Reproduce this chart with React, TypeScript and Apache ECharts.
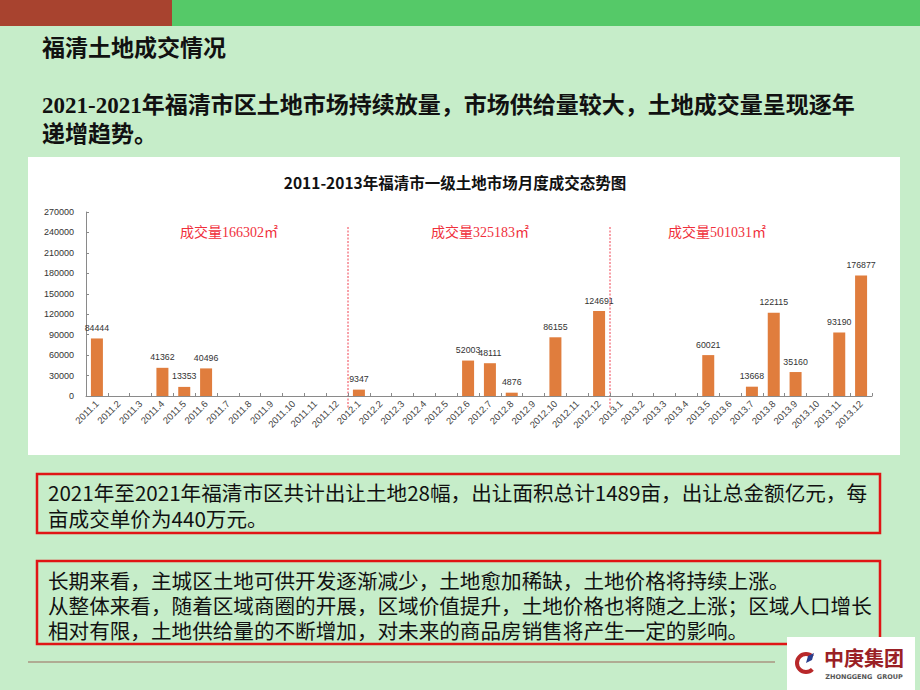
import React, { useEffect, useRef } from "react";
import * as echarts from "echarts";

const years = ["2011", "2012", "2013"];
const months = ["1", "2", "3", "4", "5", "6", "7", "8", "9", "10", "11", "12"];
const categories = years.flatMap((y) => months.map((m) => `${y}.${m}`));

const values2011 = [84444, 0, 0, 41362, 13353, 40496, 0, 0, 0, 0, 0, 0];
const values2012 = [9347, 0, 0, 0, 0, 52003, 48111, 4876, 0, 86155, 0, 124691];
const values2013 = [0, 0, 0, 0, 60021, 0, 13668, 122115, 35160, 0, 93190, 176877];
const allValues = [...values2011, ...values2012, ...values2013];

const periodTotals = ["166302", "325183", "501031"];

const pageTitle = "福清土地成交情况";
const introLines = [
  "2021-2021年福清市区土地市场持续放量，市场供给量较大，土地成交量呈现逐年",
  "递增趋势。",
];
const chartTitle = "2011-2013年福清市一级土地市场月度成交态势图";
const box1Lines = [
  "2021年至2021年福清市区共计出让土地28幅，出让面积总计1489亩，出让总金额亿元，每",
  "亩成交单价为440万元。",
];
const box2Lines = [
  "长期来看，主城区土地可供开发逐渐减少，土地愈加稀缺，土地价格将持续上涨。",
  "从整体来看，随着区域商圈的开展，区域价值提升，土地价格也将随之上涨；区域人口增长",
  "相对有限，土地供给量的不断增加，对未来的商品房销售将产生一定的影响。",
];

const CJK = "'Noto Sans CJK SC', 'Noto Sans', sans-serif";
const SERIF_CJK = "'Liberation Serif', 'Noto Sans CJK SC', serif";
const ARIAL = "'Liberation Sans', Arial, sans-serif";

export default function App() {
  const ref = useRef<HTMLDivElement>(null);

  useEffect(() => {
    if (!ref.current) return;
    const chart = echarts.init(ref.current, undefined, { renderer: "svg" });

    const staticGraphics: any[] = [
      // top bars
      { type: "rect", z: -5, shape: { x: 0, y: 0, width: 172, height: 26 }, style: { fill: "#a8432f" } },
      { type: "rect", z: -5, shape: { x: 172, y: 0, width: 748, height: 26 }, style: { fill: "#55c968" } },
      // page title
      {
        type: "text", x: 42, y: 46,
        style: { text: pageTitle, fontSize: 23, fontWeight: "bold", fontFamily: CJK, fill: "#111", textVerticalAlign: "middle" },
      },
      {
        type: "text", x: 42, y: 91,
        style: {
          text: introLines.join("\n"), fontSize: 23, fontWeight: "bold", fontFamily: SERIF_CJK,
          fill: "#111", textVerticalAlign: "top", lineHeight: 29,
        },
      },
      // white chart panel
      { type: "rect", z: -1, shape: { x: 28, y: 157, width: 872, height: 298 }, style: { fill: "#ffffff" } },
      {
        type: "text", x: 455, y: 182,
        style: { text: chartTitle, fontSize: 15.5, fontWeight: "bold", fontFamily: CJK, fill: "#111", textAlign: "center", textVerticalAlign: "middle" },
      },
      ...periodTotals.map((v, i) => ({
        type: "text", x: [229, 480, 717][i], y: 232,
        style: { text: `成交量${v}㎡`, fontSize: 14, fontFamily: SERIF_CJK, fill: "#f0303c", textAlign: "center", textVerticalAlign: "middle" },
      })),
      // box 1
      { type: "rect", shape: { x: 37, y: 474, width: 843, height: 59 }, style: { fill: "none", stroke: "#e01515", lineWidth: 2.5 } },
      {
        type: "text", x: 48, y: 479,
        style: { text: box1Lines.join("\n"), fontSize: 20.6, fontFamily: CJK, fill: "#111", textVerticalAlign: "top", lineHeight: 26 },
      },
      // box 2
      { type: "rect", shape: { x: 37, y: 561, width: 843, height: 83 }, style: { fill: "none", stroke: "#e01515", lineWidth: 2.5 } },
      {
        type: "text", x: 48, y: 567.5,
        style: { text: box2Lines.join("\n"), fontSize: 20.6, fontFamily: CJK, fill: "#111", textVerticalAlign: "top", lineHeight: 25 },
      },
      // bottom rule
      { type: "line", shape: { x1: 28, y1: 662, x2: 775, y2: 662 }, style: { stroke: "#a89580", lineWidth: 1.5 } },
      // logo
      { type: "rect", shape: { x: 787, y: 637, width: 128, height: 53 }, style: { fill: "#ffffff" } },
      {
        type: "arc",
        shape: { cx: 806, cy: 663, r: 9, startAngle: Math.PI / 4, endAngle: (Math.PI * 7) / 4, clockwise: true },
        style: { stroke: "#b8282a", lineWidth: 4, fill: "none" },
      },
      {
        type: "polygon",
        shape: { points: [[808, 656], [814, 653], [812, 660], [806, 663]] },
        style: { fill: "#2a3f8f" },
      },
      {
        type: "text", x: 864, y: 657,
        style: { text: "中庚集团", fontSize: 20, fontWeight: "bold", fontFamily: CJK, fill: "#9a2025", textAlign: "center", textVerticalAlign: "middle", lineHeight: 20 },
      },
      {
        type: "text", x: 864, y: 677,
        style: { text: "ZHONGGENG  GROUP", fontSize: 6.5, fontWeight: "bold", fontFamily: "'DejaVu Sans', sans-serif", fill: "#555", textAlign: "center", textVerticalAlign: "middle", lineHeight: 7 },
      },
    ];

    chart.setOption({
      animation: false,
      backgroundColor: "#c6edc9",
      grid: { left: 86, right: 48, top: 212, bottom: 294, containLabel: false },
      xAxis: {
        type: "category",
        data: categories,
        axisLine: { lineStyle: { color: "#8a8a8a" } },
        axisTick: { show: true, inside: true, length: 3, lineStyle: { color: "#8a8a8a" } },
        axisLabel: {
          rotate: 45,
          interval: 0,
          fontSize: 9.5,
          color: "#444",
          fontFamily: ARIAL,
          margin: 6,
        },
      },
      yAxis: {
        type: "value",
        min: 0,
        max: 270000,
        interval: 30000,
        splitLine: { show: false },
        axisLine: { show: true, lineStyle: { color: "#8a8a8a" } },
        axisTick: { show: true, inside: true, length: 3, lineStyle: { color: "#8a8a8a" } },
        axisLabel: {
          fontSize: 9,
          color: "#333",
          fontFamily: ARIAL,
          margin: 12,
          formatter: (v: number) => String(v),
        },
      },
      series: [
        {
          type: "bar",
          data: allValues,
          barWidth: 12,
          itemStyle: { color: "#e07d3d" },
          labelLayout: { moveOverlap: "shiftX" },
          label: {
            show: true,
            position: "top",
            distance: 6,
            fontSize: 8.8,
            color: "#333",
            fontFamily: ARIAL,
            formatter: (p: any) => (p.value ? String(p.value) : ""),
          },
        },
      ],
      graphic: staticGraphics,
    });

    // dashed separators between years, located through the category scale
    const sepGraphics: any[] = [];
    for (let k = 1; k < years.length; k++) {
      const a = chart.convertToPixel({ xAxisIndex: 0 }, k * 12 - 1) as number;
      const b = chart.convertToPixel({ xAxisIndex: 0 }, k * 12) as number;
      const x = (a + b) / 2;
      sepGraphics.push({
        type: "line",
        shape: { x1: x, y1: 227, x2: x, y2: 408 },
        style: { stroke: "#f04050", lineWidth: 1, lineDash: [2, 1.5] },
      });
    }
    chart.setOption({ graphic: [...staticGraphics, ...sepGraphics] });

    return () => chart.dispose();
  }, []);

  return (
    <div
      ref={ref}
      style={{ position: "absolute", left: 0, top: 0, width: 920, height: 690 }}
    />
  );
}
